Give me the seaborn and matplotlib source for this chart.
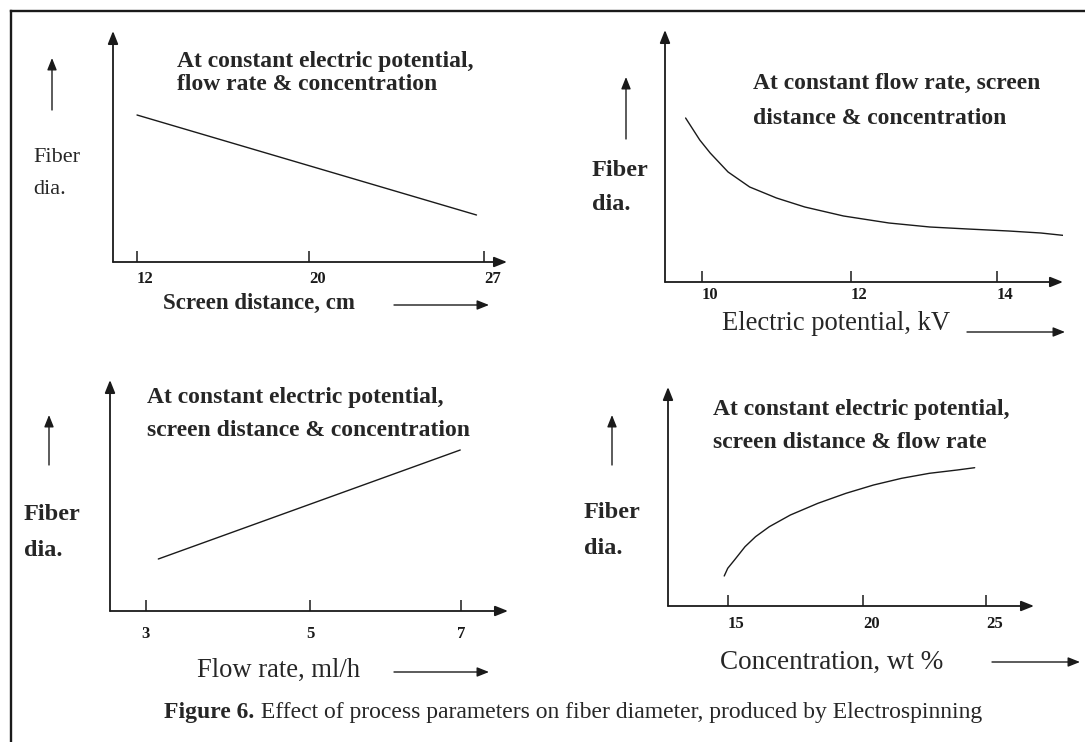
import numpy as np
import matplotlib
matplotlib.use("Agg")
import matplotlib.pyplot as plt
import seaborn as sns

# ---------------- data ----------------
p1_screen_cm = [12, 26.7]
p1_dia = [147, 47]
p1_ticks = [12, 20, 27]

p2_kv = [9.78, 9.97, 10.11, 10.35, 10.64, 11.0, 11.38, 11.9, 12.52, 13.08, 13.6, 14.16, 14.6, 14.99]
p2_dia = [164, 142, 129, 110, 95, 84, 75, 66, 59, 55, 53, 51, 49, 46]
p2_ticks = [10, 12, 14]

p3_flow = [3.15, 6.99]
p3_dia = [52, 161]
p3_ticks = [3, 5, 7]

p4_conc = [14.86, 14.99, 15.24, 15.63, 16.02, 16.53, 17.31, 18.33, 19.37, 20.43, 21.57, 22.70, 23.83, 24.54]
p4_dia = [30, 37.7, 46, 59.3, 69.3, 79.3, 91, 102.7, 112.7, 121, 127.7, 132.7, 136, 138.3]
p4_ticks = [15, 20, 25]

titles = [
    ["At constant electric potential,", "flow rate & concentration"],
    ["At constant flow rate, screen", "distance & concentration"],
    ["At constant electric potential,", "screen distance & concentration"],
    ["At constant electric potential,", "screen distance & flow rate"],
]
xlabels = ["Screen distance, cm", "Electric potential, kV", "Flow rate, ml/h", "Concentration, wt %"]
caption_bold = "Figure 6."
caption_rest = " Effect of process parameters on fiber diameter, produced by Electrospinning"

# ---------------- style ----------------
sns.set_theme(style="white")
plt.rcParams["font.family"] = ["Liberation Serif", "DejaVu Serif"]

W, H = 1085, 742
fig = plt.figure(figsize=(W / 100, H / 100), dpi=100)
fig.patch.set_facecolor("white")

# overlay in pixel coordinates for annotation layout
ax0 = fig.add_axes([0, 0, 1, 1])
ax0.set_xlim(0, W)
ax0.set_ylim(H, 0)
ax0.axis("off")

# frame (only top and left edges visible)
ax0.plot([11, 11], [H + 5, 11], color="k", lw=1.7, solid_capstyle="projecting")
ax0.plot([11, W + 5], [11, 11], color="k", lw=1.7, solid_capstyle="projecting")


def piecewise(vals, pos):
    vals = np.asarray(vals, float)
    pos = np.asarray(pos, float)
    s0 = (pos[1] - pos[0]) / (vals[1] - vals[0])
    s1 = (pos[-1] - pos[-2]) / (vals[-1] - vals[-2])

    def fwd(x):
        x = np.asarray(x, float)
        y = np.interp(x, vals, pos)
        y = np.where(x < vals[0], pos[0] + (x - vals[0]) * s0, y)
        y = np.where(x > vals[-1], pos[-1] + (x - vals[-1]) * s1, y)
        return y

    def inv(p):
        p = np.asarray(p, float)
        x = np.interp(p, pos, vals)
        x = np.where(p < pos[0], vals[0] + (p - pos[0]) / s0, x)
        x = np.where(p > pos[-1], vals[-1] + (p - pos[-1]) / s1, x)
        return x

    return fwd, inv


axis_arrow = dict(arrowstyle="-|>,head_length=0.55,head_width=0.22", lw=1.3,
                  color="k", shrinkA=0, shrinkB=0, mutation_scale=14)
small_arrow = dict(arrowstyle="-|>,head_length=0.55,head_width=0.22", lw=1.0,
                   color="k", shrinkA=0, shrinkB=0, mutation_scale=13)


def panel(box, x, y, ticks, tick_px, ymax, tick_ha, pad):
    left, bottom, right, top = box
    ax = fig.add_axes([left / W, 1 - bottom / H, (right - left) / W, (bottom - top) / H])
    ax.patch.set_visible(False)
    fwd, inv = piecewise(ticks, tick_px)
    ax.set_xscale("function", functions=(fwd, inv))
    sns.lineplot(x=x, y=y, ax=ax, color="#1a1a1a", lw=1.0)
    ax.set_xlim(float(inv(left)), float(inv(right)))
    ax.set_ylim(0, ymax)
    for s in ax.spines.values():
        s.set_visible(False)
    ax.set_xticks(ticks)
    ax.set_xticklabels([str(t) for t in ticks], fontweight="bold", fontsize=12)
    for lab in ax.get_xticklabels():
        lab.set_ha(tick_ha)
    ax.set_yticks([])
    ax.tick_params(axis="x", bottom=True, direction="in", length=8, width=1.1,
                   color="k", pad=pad, labelcolor="k")
    ax.set_xlabel("")
    ax.set_ylabel("")
    ax.annotate("", xy=(1, 0), xytext=(0, 0), xycoords="axes fraction",
                textcoords="axes fraction", arrowprops=axis_arrow, annotation_clip=False)
    ax.annotate("", xy=(0, 1), xytext=(0, 0), xycoords="axes fraction",
                textcoords="axes fraction", arrowprops=axis_arrow, annotation_clip=False)
    return ax


panel((113, 262, 507, 31), p1_screen_cm, p1_dia, p1_ticks, [137, 309, 484], 231, "left", 6.5)
panel((665, 282, 1063, 30), p2_kv, p2_dia, p2_ticks, [702, 851, 997], 252, "left", 3.5)
panel((110, 611, 508, 380), p3_flow, p3_dia, p3_ticks, [146, 310, 461], 231, "center", 10.5)
panel((668, 606, 1034, 387), p4_conc, p4_dia, p4_ticks, [728, 863, 986], 219, "left", 7.5)

# titles (bold)
title_pos = [(177, 61, 84), (753, 83, 118), (147, 397, 430), (713, 410, 443)]
for (tx, y1, y2), lines in zip(title_pos, titles):
    ax0.text(tx, y1, lines[0], fontsize=17, fontweight="bold", ha="left", va="center")
    ax0.text(tx, y2, lines[1], fontsize=17, fontweight="bold", ha="left", va="center")

# y-axis labels "Fiber dia." with up arrows
fiber_pos = [(33, 158, 190, "normal", 16), (592, 170, 205, "bold", 17.5),
             (24, 515, 550, "bold", 17.5), (584, 513, 548, "bold", 17.5)]
for fx, y1, y2, w, fs in fiber_pos:
    ax0.text(fx, y1, "Fiber", fontsize=fs, fontweight=w, ha="left", va="center")
    ax0.text(fx, y2, "dia.", fontsize=fs, fontweight=w, ha="left", va="center")

up_arrows = [(52, 110, 58), (626, 139, 77), (49, 465, 415), (612, 465, 415)]
for ux, yb, yt in up_arrows:
    ax0.annotate("", xy=(ux, yt), xytext=(ux, yb), arrowprops=small_arrow)

# x-axis labels with right arrows
xlab_pos = [(163, 303, "bold", 16.5, 394, 489, 305),
            (722, 323, "normal", 19.2, 967, 1065, 332),
            (197, 670, "normal", 19.2, 394, 489, 672),
            (720, 662, "normal", 19.5, 992, 1080, 662)]
for (lx, ly, w, fs, ax1, ax2, ay), lab in zip(xlab_pos, xlabels):
    ax0.text(lx, ly, lab, fontsize=fs, fontweight=w, ha="left", va="center")
    ax0.annotate("", xy=(ax2, ay), xytext=(ax1, ay), arrowprops=small_arrow)

# caption
t_rest = ax0.text(982, 718, caption_rest, fontsize=17, ha="right", va="baseline")
ax0.annotate(caption_bold, xy=(0, 0), xycoords=t_rest, ha="right", va="bottom",
             fontsize=17, fontweight="bold")

fig.savefig("out.png", dpi=100, facecolor="white")
